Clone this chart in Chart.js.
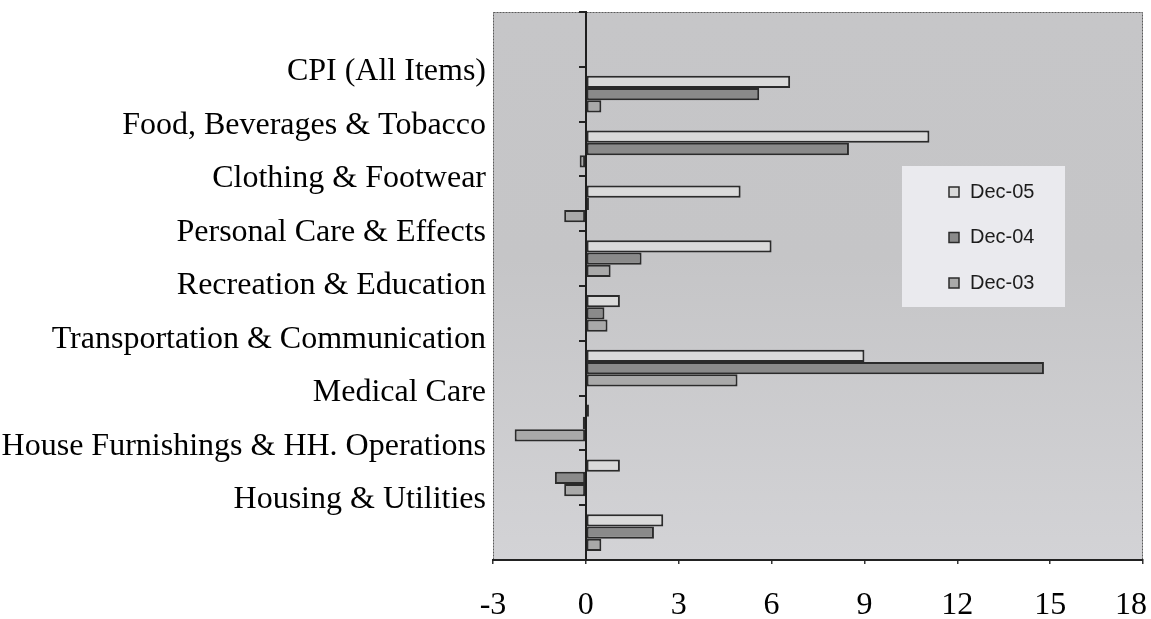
<!DOCTYPE html>
<html>
<head>
<meta charset="utf-8">
<script src="https://cdn.jsdelivr.net/npm/chart.js@4.4.1/dist/chart.umd.min.js"></script>
<style>
  html, body { margin: 0; padding: 0; background: #ffffff; }
  canvas { display: block; }
</style>
</head>
<body>
<canvas id="cpi" width="1151" height="619"></canvas>
<script>
// Year-on-year change (%) by CPI group
const categories = [
  'CPI (All Items)',
  'Food, Beverages & Tobacco',
  'Clothing & Footwear',
  'Personal Care & Effects',
  'Recreation & Education',
  'Transportation & Communication',
  'Medical Care',
  'House Furnishings & HH. Operations',
  'Housing & Utilities'
];
const seriesNames = ['Dec-05', 'Dec-04', 'Dec-03'];
const dec05 = [6.6, 11.1, 5.0, 6.0, 1.1, 9.0, 0.1, 1.1, 2.5];
const dec04 = [5.6, 8.5, 0.1, 1.8, 0.6, 14.8, -0.1, -1.0, 2.2];
const dec03 = [0.5, -0.2, -0.7, 0.8, 0.7, 4.9, -2.3, -0.7, 0.5];
const xTicks = [-3, 0, 3, 6, 9, 12, 15, 18];

// the band axis has an empty first slot above the first group
const slots = [''].concat(categories);
const withLead = (arr) => [null].concat(arr);

const seriesFill = ['#dadada', '#8a8a8a', '#a9a9a9'];
const outline = '#2b2b2b';
const serif = 'Liberation Serif, Times New Roman, serif';

// plot panel: grey fill and dotted frame
const backdrop = {
  id: 'backdrop',
  beforeDraw(chart) {
    const { ctx, chartArea: a } = chart;
    ctx.save();
    const g = ctx.createLinearGradient(0, a.top, 0, a.bottom);
    g.addColorStop(0, '#c6c6c8');
    g.addColorStop(0.45, '#c5c5c7');
    g.addColorStop(1, '#d3d3d6');
    ctx.fillStyle = g;
    ctx.fillRect(a.left, a.top, a.width, a.height);
    ctx.strokeStyle = '#5c5c5c';
    ctx.lineWidth = 1;
    ctx.setLineDash([2, 1]);
    ctx.strokeRect(a.left + 0.5, a.top + 0.5, a.width - 1, a.height - 1);
    ctx.restore();
  }
};

// legend block inside the plot, built from the datasets
const sideLegend = {
  id: 'sideLegend',
  afterDraw(chart, args, o) {
    const { ctx } = chart;
    ctx.save();
    ctx.fillStyle = o.panel;
    ctx.fillRect(o.x, o.y, o.w, o.h);
    ctx.font = o.font;
    ctx.textBaseline = 'middle';
    ctx.textAlign = 'left';
    chart.data.datasets.forEach((ds, i) => {
      const cy = o.firstY + i * o.gap;
      ctx.fillStyle = ds.backgroundColor;
      ctx.fillRect(o.markX, cy - o.mark / 2, o.mark, o.mark);
      ctx.strokeStyle = ds.borderColor;
      ctx.lineWidth = 1.5;
      ctx.strokeRect(o.markX, cy - o.mark / 2, o.mark, o.mark);
      ctx.fillStyle = '#1c1c1c';
      ctx.fillText(ds.label, o.textX, cy);
    });
    ctx.restore();
  }
};

const makeSet = (i, values) => ({
  label: seriesNames[i],
  data: withLead(values),
  backgroundColor: seriesFill[i],
  borderColor: outline,
  borderWidth: 2,
  borderSkipped: false,
  categoryPercentage: 0.672,
  barPercentage: 1.0
});

new Chart(document.getElementById('cpi'), {
  type: 'bar',
  data: {
    labels: slots,
    datasets: [makeSet(0, dec05), makeSet(1, dec04), makeSet(2, dec03)]
  },
  plugins: [backdrop, sideLegend],
  options: {
    indexAxis: 'y',
    responsive: false,
    devicePixelRatio: 1,
    animation: false,
    layout: { padding: { top: 12, right: 8, bottom: 0, left: 0 } },
    plugins: {
      legend: { display: false },
      tooltip: { enabled: false },
      sideLegend: {
        x: 902, y: 166, w: 163, h: 141,
        panel: '#eaeaee',
        firstY: 192, gap: 45.5,
        markX: 949, mark: 10, textX: 970,
        font: '20px "Liberation Sans", Arial, sans-serif'
      }
    },
    scales: {
      x: {
        type: 'linear',
        position: 'bottom',
        min: -3,
        max: 18,
        afterBuildTicks: (s) => { s.ticks = xTicks.map(v => ({ value: v })); },
        afterFit: (s) => { s.height = 59; s.paddingLeft = 0; s.paddingRight = 0; },
        ticks: {
          autoSkip: false,
          maxRotation: 0,
          padding: 26,
          color: '#000000',
          font: { family: serif, size: 32, lineHeight: 1 },
          // trailing spaces pull the last label back inside the canvas
          callback: (v) => (v === xTicks[xTicks.length - 1] ? v + '   ' : String(v))
        },
        grid: { drawOnChartArea: false, drawTicks: true, tickLength: 4, color: '#333333', lineWidth: 1.5 },
        border: { display: true, color: '#222222', width: 2 }
      },
      y: {
        type: 'category',
        position: { x: 0 },
        offset: true,
        ticks: { display: false },
        grid: { offset: true, drawOnChartArea: false, drawTicks: true, tickLength: 6, color: '#222222', lineWidth: 2 },
        border: { display: true, color: '#1e1e1e', width: 2 }
      },
      // name column: tick i carries categories[i], placed at the top edge of its group
      yNames: {
        type: 'linear',
        position: 'left',
        reverse: true,
        offset: false,
        bounds: 'data',
        min: -1.115,
        max: 9.121,
        afterBuildTicks: (s) => { s.ticks = categories.map((_, i) => ({ value: i })); },
        afterFit: (s) => { s.width = 493; s.paddingTop = 0; s.paddingBottom = 0; },
        ticks: {
          autoSkip: false,
          padding: 7,
          color: '#000000',
          font: { family: serif, size: 32, lineHeight: 1.2 },
          callback: (v) => categories[v]
        },
        grid: { display: false, drawTicks: false, offset: false },
        border: { display: false }
      }
    }
  }
});
</script>
</body>
</html>
